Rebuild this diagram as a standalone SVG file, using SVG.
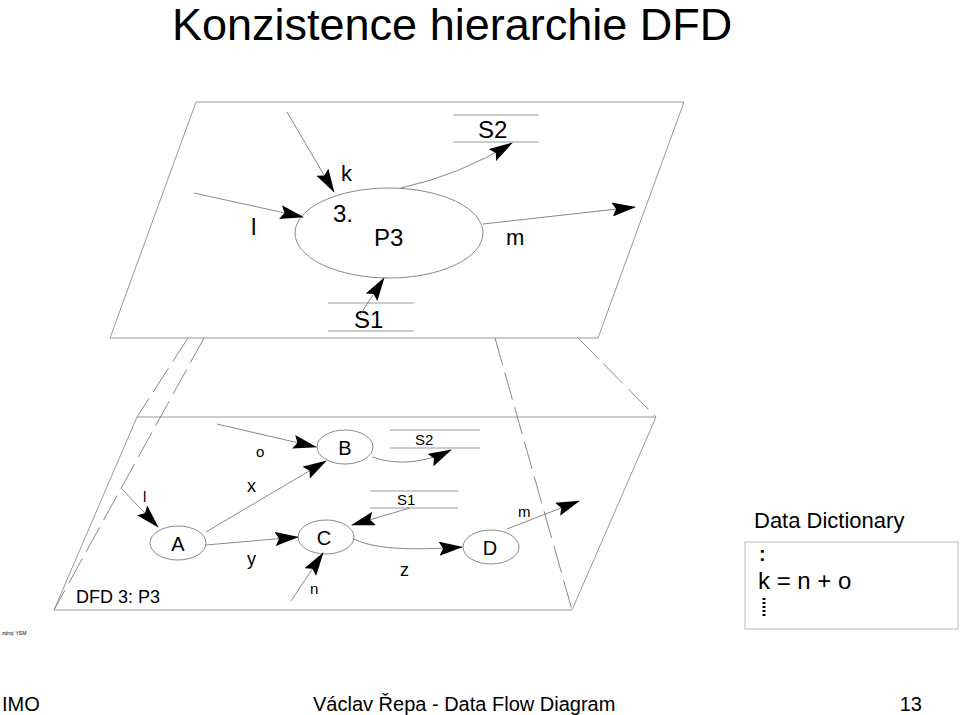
<svg xmlns="http://www.w3.org/2000/svg" width="960" height="715" viewBox="0 0 960 715">
<style>
text{font-family:"Liberation Sans",Arial,sans-serif;fill:#000}
.pl{fill:none;stroke:#999;stroke-width:1}
.ds{fill:none;stroke:#888;stroke-width:1;stroke-dasharray:28 8}
.fl{fill:none;stroke:#888;stroke-width:1;marker-end:url(#ah)}
.nd{fill:#fff;stroke:#888;stroke-width:1}
.st{stroke:#999;stroke-width:1}
</style>
<defs>
<marker id="ah" markerUnits="userSpaceOnUse" markerWidth="24" markerHeight="14" viewBox="0 0 24 14" refX="23" refY="7" orient="auto">
<path d="M0,0 L24,7 L0,14 L4,7 Z" fill="#000"/>
</marker>
</defs>
<rect width="960" height="715" fill="#fff"/>
<text x="172" y="40" font-size="45">Konzistence hierarchie DFD</text>

<g id="planes">
<polygon class="pl" points="196,102 684,102 598,338 110,338"/>
<polygon class="pl" points="137,417 656,417 572,610 54,610"/>
</g>
<g id="connectors-between-planes">
<line class="ds" x1="188" y1="338" x2="137" y2="417"/>
<line class="ds" x1="204" y1="338" x2="54" y2="610"/>
<line class="ds" x1="495" y1="338" x2="572" y2="610"/>
<line class="ds" x1="578" y1="338" x2="656" y2="417"/>
</g>

<g id="P3">
<ellipse class="nd" cx="389" cy="233" rx="94" ry="45"/>
<text x="333" y="222" font-size="24">3.</text>
<text x="374" y="246" font-size="24">P3</text>
</g>
<g id="top-S2">
<line class="st" x1="453" y1="115" x2="539" y2="115"/>
<line class="st" x1="453" y1="142" x2="539" y2="142"/>
<text x="478" y="138" font-size="24">S2</text>
</g>
<g id="top-S1">
<line class="st" x1="328" y1="303" x2="414" y2="303"/>
<line class="st" x1="328" y1="331" x2="414" y2="331"/>
<text x="354" y="328" font-size="24">S1</text>
</g>

<g id="A"><ellipse class="nd" cx="178" cy="543" rx="28" ry="17"/><text x="178" y="551" font-size="20" text-anchor="middle">A</text></g>
<g id="B"><ellipse class="nd" cx="345" cy="447" rx="28" ry="17"/><text x="345" y="455" font-size="20" text-anchor="middle">B</text></g>
<g id="C"><ellipse class="nd" cx="326" cy="537" rx="28" ry="17"/><text x="324" y="545" font-size="20" text-anchor="middle">C</text></g>
<g id="D"><ellipse class="nd" cx="491" cy="547" rx="28" ry="17"/><text x="490" y="555" font-size="20" text-anchor="middle">D</text></g>
<g id="S2">
<line class="st" x1="390" y1="430" x2="480" y2="430"/>
<line class="st" x1="390" y1="448" x2="480" y2="448"/>
<text x="415" y="445" font-size="15">S2</text>
</g>
<g id="S1">
<line class="st" x1="370" y1="491" x2="458" y2="491"/>
<line class="st" x1="370" y1="508" x2="458" y2="508"/>
<text x="397" y="505" font-size="15">S1</text>
</g>

<g id="connectors">
<line class="fl" x1="287" y1="112" x2="334" y2="192"/>
<line class="fl" x1="194" y1="193" x2="303" y2="217"/>
<path class="fl" d="M401,188 Q460,175 512,143"/>
<line class="fl" x1="483" y1="224" x2="635" y2="207"/>
<line class="fl" x1="360" y1="315" x2="384" y2="278"/>
<line class="fl" x1="217" y1="424" x2="316" y2="447"/>
<line class="fl" x1="121" y1="488" x2="158" y2="527"/>
<line class="fl" x1="206" y1="532" x2="326" y2="461"/>
<line class="fl" x1="206" y1="545" x2="298" y2="537"/>
<line class="fl" x1="291" y1="601" x2="323" y2="553"/>
<line class="fl" x1="410" y1="508" x2="352" y2="525"/>
<path class="fl" d="M354,539 Q380,553 462,547"/>
<line class="fl" x1="507" y1="529" x2="579" y2="501"/>
<path class="fl" d="M372,457 Q410,470 451,450"/>
</g>
<g id="labels">
<text x="341" y="181" font-size="22">k</text>
<text x="251" y="235" font-size="24">l</text>
<text x="506" y="245" font-size="22">m</text>
<text x="256" y="457" font-size="15">o</text>
<text x="143" y="502" font-size="15">l</text>
<text x="247" y="492" font-size="18">x</text>
<text x="247" y="565" font-size="18">y</text>
<text x="310" y="594" font-size="15">n</text>
<text x="400" y="576" font-size="18">z</text>
<text x="518" y="517" font-size="15">m</text>
<text x="76" y="603" font-size="18">DFD 3: P3</text>
</g>
<text x="2" y="635" font-size="5">zdroj: YSM</text>

<g id="dictionary">
<text x="754" y="528" font-size="22">Data Dictionary</text>
<rect x="745" y="542" width="213" height="87" fill="none" stroke="#bbb"/>
<text x="759" y="561" font-size="20" font-weight="bold">:</text>
<text x="758" y="589" font-size="24">k = n + o</text>
<line x1="764" y1="598" x2="764" y2="616" stroke="#000" stroke-width="3" stroke-dasharray="2 2"/>
</g>

<g id="footer">
<text x="2" y="711" font-size="20">IMO</text>
<text x="313" y="711" font-size="20">Václav Řepa - Data Flow Diagram</text>
<text x="922" y="711" font-size="20" text-anchor="end">13</text>
</g>
</svg>
